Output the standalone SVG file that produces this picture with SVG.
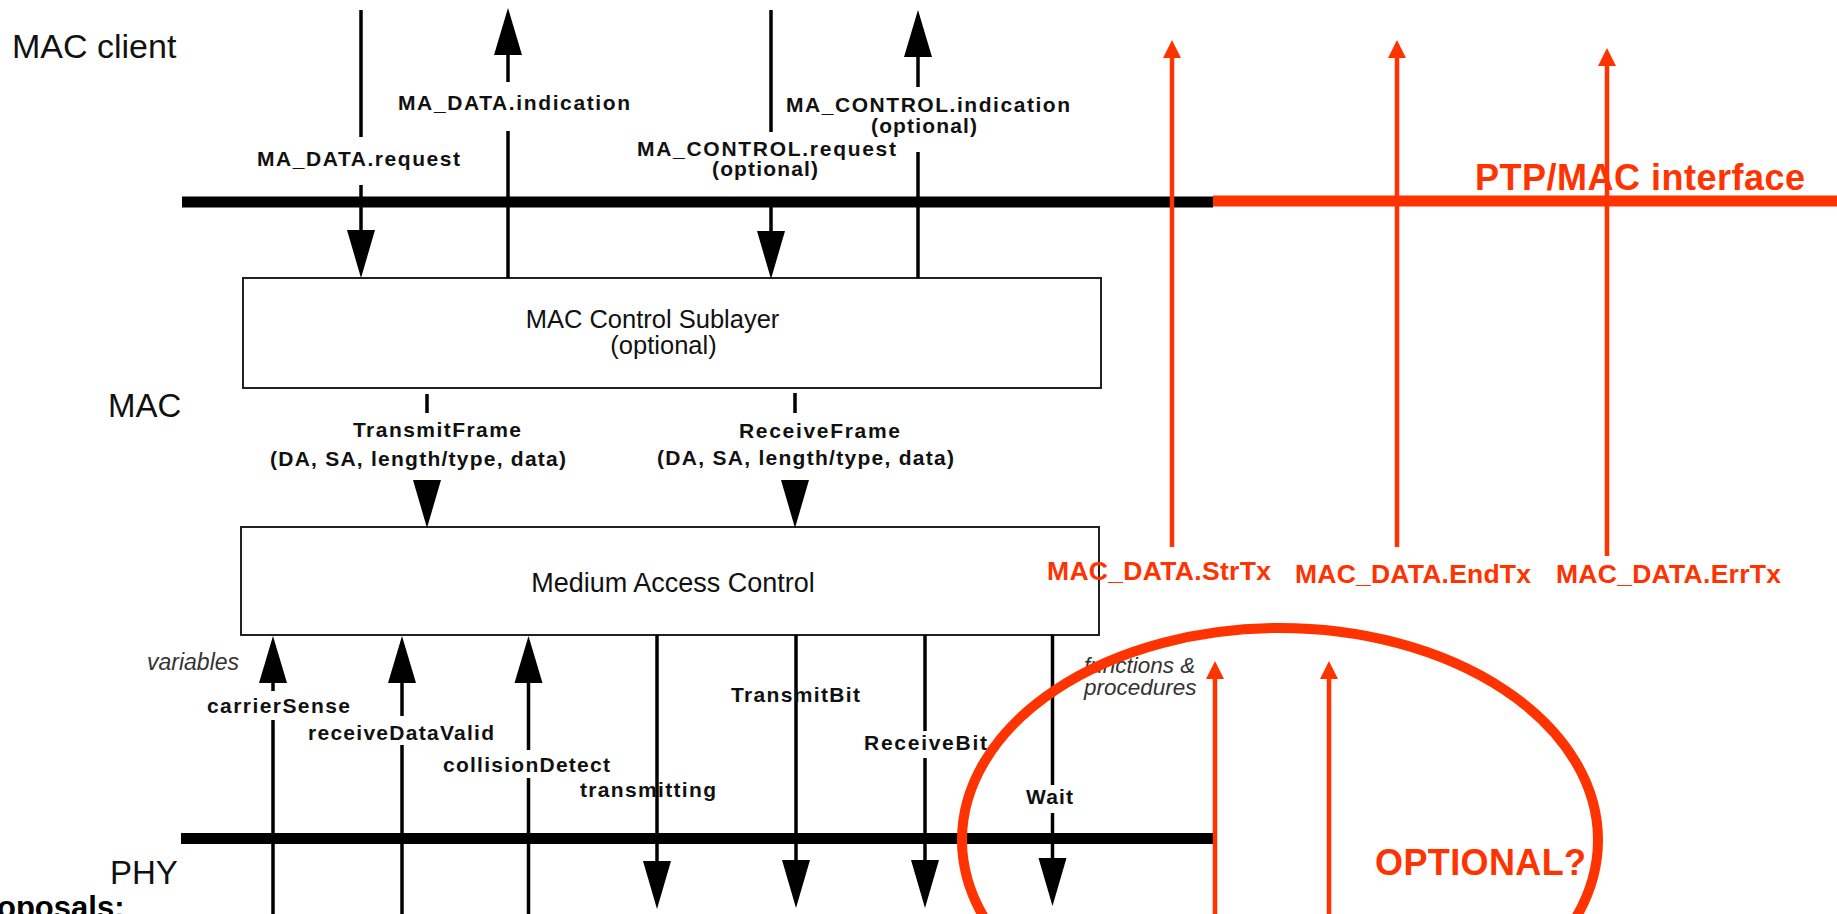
<svg xmlns="http://www.w3.org/2000/svg" xmlns:xlink="http://www.w3.org/1999/xlink" width="1837" height="914" viewBox="0 0 1837 914">
  <style>
    text { font-family: "Liberation Sans", Arial, Helvetica, sans-serif; }
    .layer { fill: #111; }
    .box { fill: #fff; stroke: #222; stroke-width: 2; }
    .boxtxt { fill: #111; text-anchor: middle; }
    .lbl { font-size: 21px; font-weight: bold; fill: #111; }
    .ital { font-style: italic; fill: #333; }
    .wire { stroke: #000; stroke-width: 3.5; fill: none; }
    .bar { fill: #000; }
    .red { fill: #ff3300; }
    .redwire { stroke: #ff3300; stroke-width: 4.5; fill: none; }
    .redlbl { font-weight: bold; fill: #ff3300; }
  </style>
  <defs>
    <!-- filled arrowheads; origin at the base centre -->
    <path id="ah-down" d="M-14,0 L14,0 L0,48 Z" fill="#000"/>
    <path id="ah-up" d="M-14,0 L14,0 L0,-47 Z" fill="#000"/>
    <path id="rah-up" d="M-9,0 L9,0 L0,-18 Z" fill="#ff3300"/>
  </defs>

  <rect width="1837" height="914" fill="#fff"/>

  <!-- layer names -->
  <g id="layer-names">
    <text class="layer" x="12" y="58" font-size="34">MAC client</text>
    <text class="layer" x="108" y="417" font-size="33">MAC</text>
    <text class="layer" x="110" y="884" font-size="33">PHY</text>
    <text x="-3" y="918" font-size="31" font-weight="bold" fill="#000">oposals:</text>
  </g>

  <!-- service interface bars -->
  <g id="interface-bars">
    <rect class="bar" x="182" y="196.5" width="1031" height="11"/>
    <rect class="bar" x="181" y="833" width="1032" height="11"/>
    <rect class="red" x="1213" y="195.5" width="624" height="11"/>
    <text class="redlbl" x="1475" y="190" font-size="36" textLength="330">PTP/MAC interface</text>
  </g>

  <!-- sublayer boxes -->
  <g id="mac-control-sublayer">
    <rect class="box" x="243" y="278" width="858" height="110"/>
    <text class="boxtxt" x="652.5" y="328" font-size="25.5">MAC Control Sublayer</text>
    <text class="boxtxt" x="663.5" y="354" font-size="25.5">(optional)</text>
  </g>
  <g id="medium-access-control">
    <rect class="box" x="241" y="527" width="858" height="108"/>
    <text class="boxtxt" x="673" y="592" font-size="27">Medium Access Control</text>
  </g>

  <!-- black primitives between client, MAC and PHY -->
  <g id="connectors">
    <!-- MA_DATA.request -->
    <line class="wire" x1="361" y1="10" x2="361" y2="137"/>
    <line class="wire" x1="361" y1="185" x2="361" y2="232"/>
    <use xlink:href="#ah-down" x="361" y="230"/>
    <!-- MA_DATA.indication -->
    <use xlink:href="#ah-up" x="508" y="55"/>
    <line class="wire" x1="508" y1="54" x2="508" y2="82"/>
    <line class="wire" x1="508" y1="131" x2="508" y2="278"/>
    <!-- MA_CONTROL.request -->
    <line class="wire" x1="771" y1="10" x2="771" y2="132"/>
    <line class="wire" x1="771" y1="200" x2="771" y2="234"/>
    <use xlink:href="#ah-down" x="771" y="231"/>
    <!-- MA_CONTROL.indication -->
    <use xlink:href="#ah-up" x="918" y="57"/>
    <line class="wire" x1="918" y1="56" x2="918" y2="87"/>
    <line class="wire" x1="918" y1="152" x2="918" y2="278"/>

    <!-- TransmitFrame / ReceiveFrame -->
    <line class="wire" x1="427" y1="394" x2="427" y2="413"/>
    <use xlink:href="#ah-down" x="427" y="480"/>
    <line class="wire" x1="795" y1="393" x2="795" y2="413"/>
    <use xlink:href="#ah-down" x="795" y="480"/>

    <!-- variables (PHY to MAC) -->
    <use xlink:href="#ah-up" x="273" y="683"/>
    <line class="wire" x1="273" y1="682" x2="273" y2="691"/>
    <line class="wire" x1="273" y1="720" x2="273" y2="914"/>
    <use xlink:href="#ah-up" x="402" y="683"/>
    <line class="wire" x1="402" y1="682" x2="402" y2="716"/>
    <line class="wire" x1="402" y1="745" x2="402" y2="914"/>
    <use xlink:href="#ah-up" x="528.5" y="683"/>
    <line class="wire" x1="528.5" y1="682" x2="528.5" y2="750"/>
    <line class="wire" x1="528.5" y1="778" x2="528.5" y2="914"/>

    <!-- functions and procedures (MAC to PHY) -->
    <line class="wire" x1="657" y1="635" x2="657" y2="863"/>
    <use xlink:href="#ah-down" x="657" y="861"/>
    <line class="wire" x1="796" y1="635" x2="796" y2="862"/>
    <use xlink:href="#ah-down" x="796" y="860"/>
    <line class="wire" x1="925" y1="635" x2="925" y2="731"/>
    <line class="wire" x1="925" y1="758" x2="925" y2="862"/>
    <use xlink:href="#ah-down" x="925" y="860"/>
    <line class="wire" x1="1052.5" y1="635" x2="1052.5" y2="785"/>
    <line class="wire" x1="1052.5" y1="813" x2="1052.5" y2="862"/>
    <use xlink:href="#ah-down" x="1052.5" y="858"/>
  </g>

  <!-- primitive labels -->
  <g id="primitive-labels">
    <text class="lbl" x="257" y="166" textLength="203">MA_DATA.request</text>
    <text class="lbl" x="398" y="110" textLength="232">MA_DATA.indication</text>
    <text class="lbl" x="637" y="156" textLength="259">MA_CONTROL.request</text>
    <text class="lbl" x="712" y="176" textLength="106">(optional)</text>
    <text class="lbl" x="786" y="112" textLength="284">MA_CONTROL.indication</text>
    <text class="lbl" x="871" y="133" textLength="106">(optional)</text>

    <text class="lbl" x="353" y="437" textLength="168">TransmitFrame</text>
    <text class="lbl" x="270" y="466" textLength="296">(DA, SA, length/type, data)</text>
    <text class="lbl" x="739" y="438" textLength="161">ReceiveFrame</text>
    <text class="lbl" x="657" y="465" textLength="297">(DA, SA, length/type, data)</text>

    <text class="ital" x="147" y="670" font-size="23">variables</text>
    <text class="lbl" x="207" y="713" textLength="143">carrierSense</text>
    <text class="lbl" x="308" y="740" textLength="186">receiveDataValid</text>
    <text class="lbl" x="443" y="772" textLength="167">collisionDetect</text>
    <text class="lbl" x="580" y="797" textLength="136">transmitting</text>
    <text class="lbl" x="731" y="702" textLength="129">TransmitBit</text>
    <text class="lbl" x="864" y="750" textLength="123">ReceiveBit</text>
    <text class="lbl" x="1026" y="804" textLength="47">Wait</text>

    <text class="ital" x="1084" y="673" font-size="22.5">functions &amp;</text>
    <text class="ital" x="1084" y="695" font-size="22.5">procedures</text>
  </g>

  <!-- proposed PTP/MAC primitives -->
  <g id="ptp-primitives">
    <line class="redwire" x1="1172" y1="56" x2="1172" y2="547"/>
    <use xlink:href="#rah-up" x="1172" y="58"/>
    <line class="redwire" x1="1397" y1="56" x2="1397" y2="547"/>
    <use xlink:href="#rah-up" x="1397" y="58"/>
    <line class="redwire" x1="1607" y1="64" x2="1607" y2="556"/>
    <use xlink:href="#rah-up" x="1607" y="66"/>
    <text class="redlbl" x="1047" y="580" font-size="26.5" textLength="224">MAC_DATA.StrTx</text>
    <text class="redlbl" x="1295" y="583" font-size="26.5" textLength="236">MAC_DATA.EndTx</text>
    <text class="redlbl" x="1556" y="583" font-size="26.5" textLength="225">MAC_DATA.ErrTx</text>

    <line class="redwire" x1="1215" y1="677" x2="1215" y2="914"/>
    <use xlink:href="#rah-up" x="1215" y="679"/>
    <line class="redwire" x1="1329" y1="677" x2="1329" y2="914"/>
    <use xlink:href="#rah-up" x="1329" y="679"/>
  </g>

  <!-- optional region -->
  <g id="optional-region">
    <ellipse cx="1280" cy="840" rx="318" ry="212" fill="none" stroke="#ff3300" stroke-width="10"/>
    <text class="redlbl" x="1375" y="875" font-size="36" textLength="211">OPTIONAL?</text>
  </g>
</svg>
